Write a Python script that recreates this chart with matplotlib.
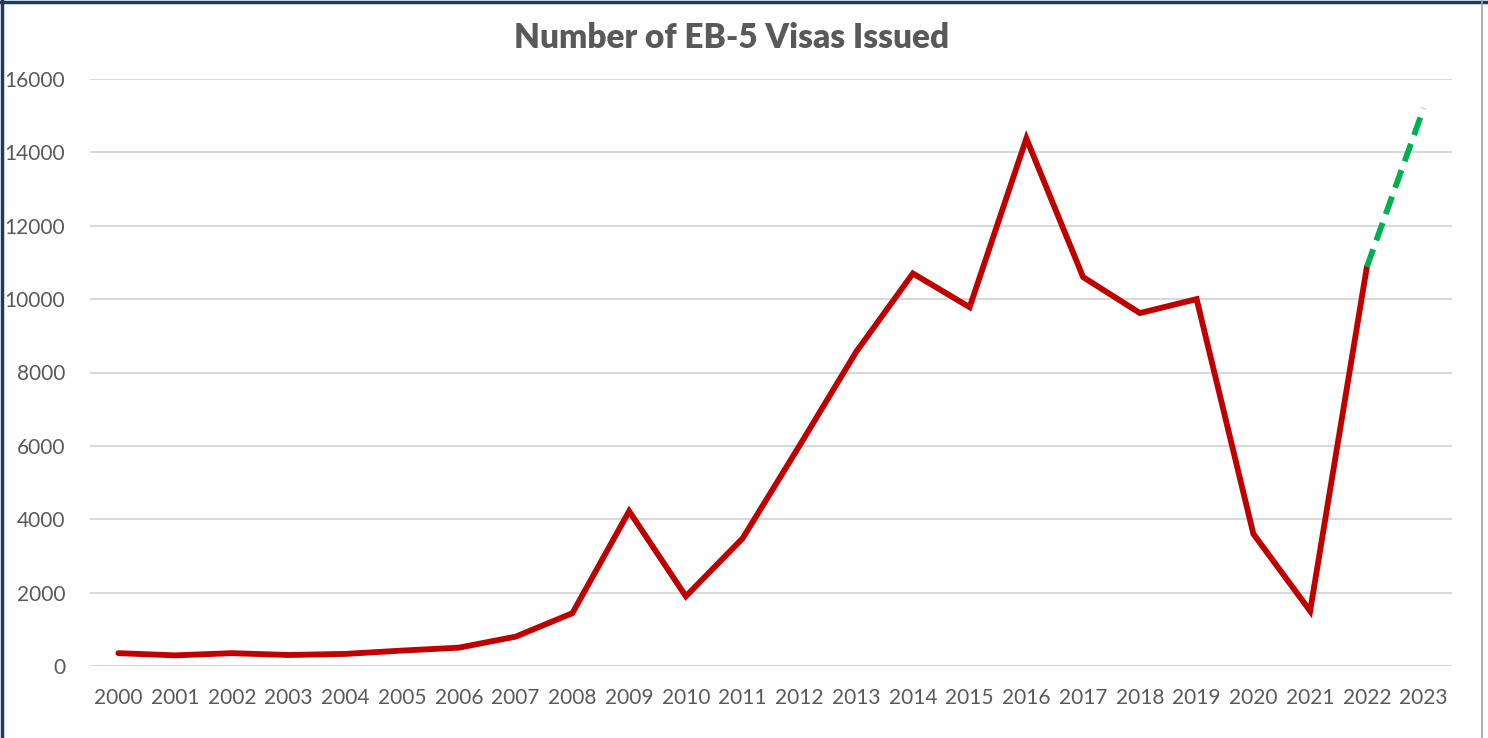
import numpy as np
import matplotlib.pyplot as plt
from matplotlib.lines import Line2D

years = [str(y) for y in range(2000, 2024)]
visas = [350, 290, 350, 300, 330, 420, 500, 800, 1440, 4220, 1900, 3480,
         6000, 8560, 10700, 9780, 14380, 10600, 9620, 10000, 3600, 1500, 10880]
projected = [10880, 15200]

W, H = 1488, 738
fig = plt.figure(figsize=(W / 100, H / 100), dpi=100)
plt.rcParams['font.family'] = ['Lato', 'DejaVu Sans']

ax = fig.add_axes([90 / W, (H - 666) / H, (1452 - 90) / W, (666 - 79) / H])
x = np.arange(len(years))

ax.plot(x[:len(visas)], visas, color='#C00000', lw=4.2, solid_joinstyle='miter', solid_capstyle='round')
ax.plot(x[len(visas) - 1:], projected, color='#00B050', lw=4.2, dashes=(3.2, 1.6))

ax.set_xlim(-0.5, len(years) - 0.5)
ax.set_ylim(0, 16000)
ax.set_yticks(np.arange(0, 16001, 2000))
ax.set_xticks(x)
ax.set_xticklabels(years)
ax.grid(axis='y', color='#D9D9D9', lw=1.5)
ax.set_axisbelow(True)
for s in ax.spines.values():
    s.set_visible(False)
ax.tick_params(length=0, labelsize=15, colors='#595959')
ax.tick_params(axis='x', pad=16)
ax.tick_params(axis='y', pad=18)

fig.text(732 / W, (H - 38) / H, 'Number of EB-5 Visas Issued', ha='center', va='center',
         fontsize=24, fontweight='heavy', color='#595959')

# frame around the chart
fig.add_artist(Line2D([1.5 / W, 1.5 / W], [0, 1], color='#1F3864', lw=2.5, transform=fig.transFigure))
fig.add_artist(Line2D([0, 1], [1 - 1.5 / H, 1 - 1.5 / H], color='#1F3864', lw=2.5, transform=fig.transFigure))
fig.add_artist(Line2D([1482 / W, 1482 / W], [0, 1], color='#A6A6A6', lw=1.2, transform=fig.transFigure))

fig.savefig('out.png', dpi=100)
